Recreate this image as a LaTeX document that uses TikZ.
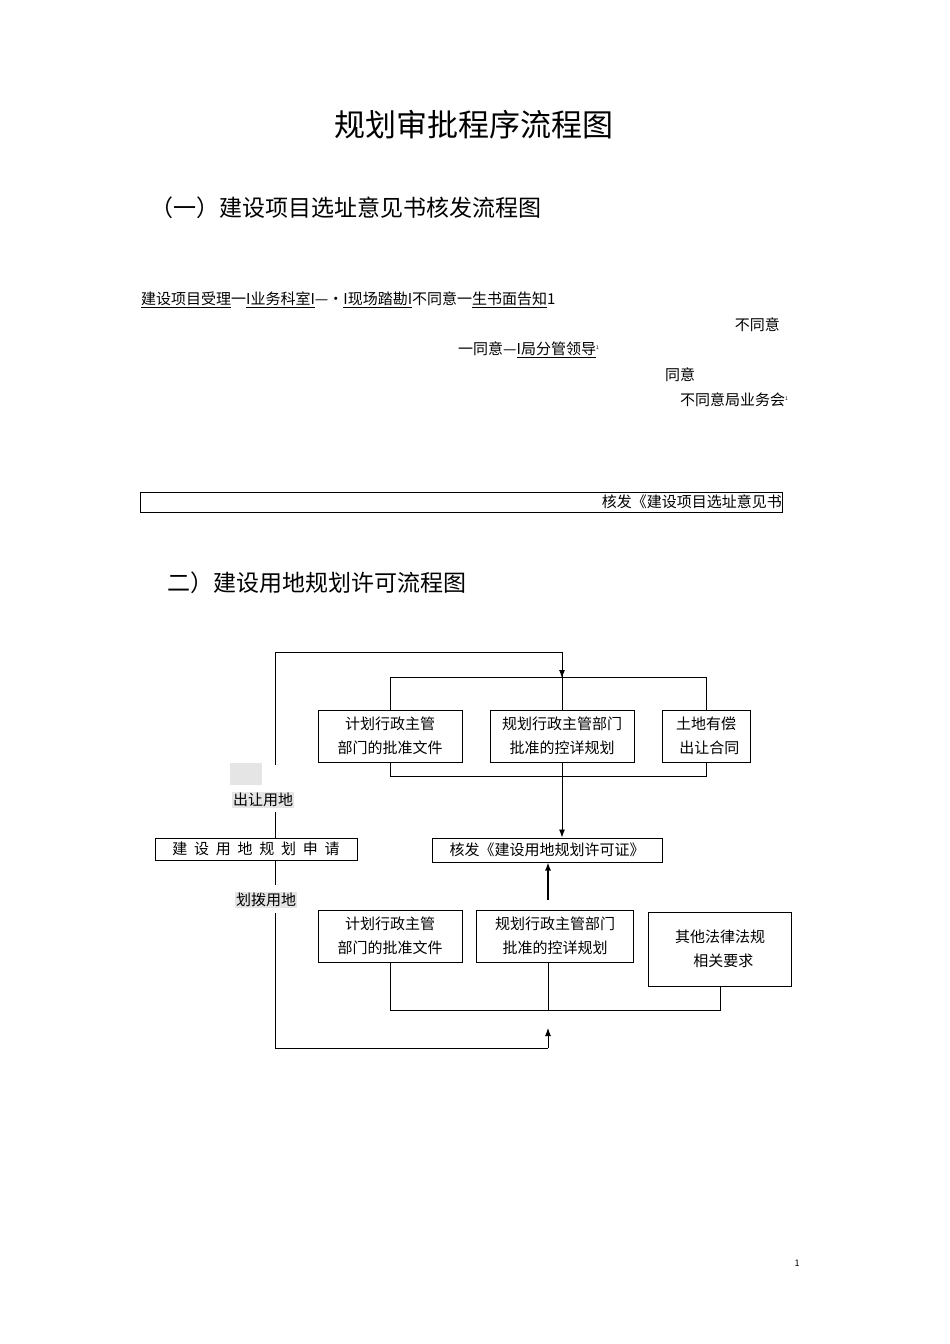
\documentclass[tikz,border=0pt]{standalone}
\usepackage{fontspec}
\setmainfont{Noto Sans CJK SC}
\newfontfamily\cjk{Noto Sans CJK SC}
\usetikzlibrary{arrows.meta}
\begin{document}
\begin{tikzpicture}[x=1pt,y=-1pt,
  bx/.style={draw,line width=1pt,minimum height=52pt,align=center,inner sep=1pt,font=\fontsize{15}{24}\selectfont},
  tx/.style={inner sep=0pt,font=\fontsize{15}{18}\selectfont},
  ln/.style={line width=0.9pt},
  ar/.style={ln,-{Latex[length=8pt,width=6pt]}},
  gl/.style={fill=black!10,inner sep=1pt,font=\fontsize{15}{18}\selectfont}]
\useasboundingbox (0,0) rectangle (950,1344);
\node[inner sep=0pt,font=\fontsize{31}{36}\selectfont] (t) at (474,125) {规划审批程序流程图};
\node[inner sep=0pt,anchor=west,font=\fontsize{23}{28}\selectfont] (s1) at (150,208) {（一）建设项目选址意见书核发流程图};
\node[tx,anchor=west] (l1) at (141,300) {\underline{建设项目受理}一\underline{I业务科室I}—•\underline{I现场踏勘I}不同意一\underline{生书面告知}1};
\node[tx,anchor=east] (l2) at (780,325) {不同意};
\node[tx,anchor=west] (l3) at (458,350) {一同意—\underline{I局分管领导}\textsuperscript{\tiny 1}};
\node[tx,anchor=west] (l4) at (665,375) {同意};
\node[tx,anchor=west] (l5) at (680,400) {不同意局业务会\textsuperscript{\tiny 1}};
\draw[line width=0.8pt] (140,492) rectangle (782,512);
\node[tx,anchor=east] (l6) at (782,502) {核发《建设项目选址意见书};
\node[inner sep=0pt,anchor=west,font=\fontsize{23}{28}\selectfont] (s2) at (167,583) {二）建设用地规划许可流程图};
% top boxes
\node[bx,minimum width=144pt] (a1) at (390,736) {计划行政主管\\部门的批准文件};
\node[bx,minimum width=144pt] (a2) at (562,736) {规划行政主管部门\\批准的控详规划};
\node[bx,minimum width=88pt] (a3) at (706,736) {土地有偿\\\ \ 出让合同};
\node[draw,line width=1pt,minimum width=230pt,minimum height=24pt,inner sep=1pt,font=\fontsize{15}{18}\selectfont] (c) at (547,850) {核发《建设用地规划许可证》};
\node[draw,line width=1pt,minimum width=202pt,minimum height=22pt,inner sep=1pt,font=\fontsize{15}{18}\selectfont] (app) at (256,849) {建\ \ 设\ \ 用\ \ 地\ \ 规\ \ 划\ \ 申\ \ 请};
\node[bx,minimum width=144pt] (b1) at (390,936) {计划行政主管\\部门的批准文件};
\node[bx,minimum width=157pt] (b2) at (555,936) {规划行政主管部门\\批准的控详规划};
\node[bx,minimum width=143pt,minimum height=74pt,line width=0.8pt] (b3) at (720,949) {其他法律法规\\\ \ 相关要求};
\node[fill=black!10,minimum width=32pt,minimum height=22pt,inner sep=0pt] (g) at (246,774) {};
\node[gl] (cr) at (263,800) {出让用地};
\node[gl] (hb) at (266,900) {划拨用地};
\coordinate (tl) at (275,652);
\coordinate (tr) at (562,652);
\coordinate (bl) at (275,1048);
\coordinate (br) at (548,1048);
% left vertical
\draw[ln] (275,765) -- (tl) -- (tr);
\draw[ar] (tr) -- (562,678);
\draw[ln] (275,812) -- (app.north -| 275,0);
\draw[ln] (app.south -| 275,0) -- (275,885);
\draw[ln] (275,913) -- (bl) -- (br);
\draw[ar] (br) -- (548,1028);
% top bus
\draw[ln] (a1.north) -- (390,677) -- (706,677) -- (a3.north);
\draw[ln] (562,652) -- (a2.north);
\draw[ln] (a1.south) -- (390,776) -- (706,776) -- (a3.south);
\draw[ar] (a2.south) -- (c.north -| a2.south);
\draw[ar,line width=1.3pt] (548,900) -- (c.south -| 548,0);
% bottom bus
\draw[ln] (b1.south) -- (390,1010) -- (720,1010) -- (b3.south);
\draw[ln] (548,962) -- (548,1010);
\node[inner sep=0pt,font=\fontsize{9}{10}\selectfont] (pg) at (797,1263) {1};
\end{tikzpicture}
\end{document}
